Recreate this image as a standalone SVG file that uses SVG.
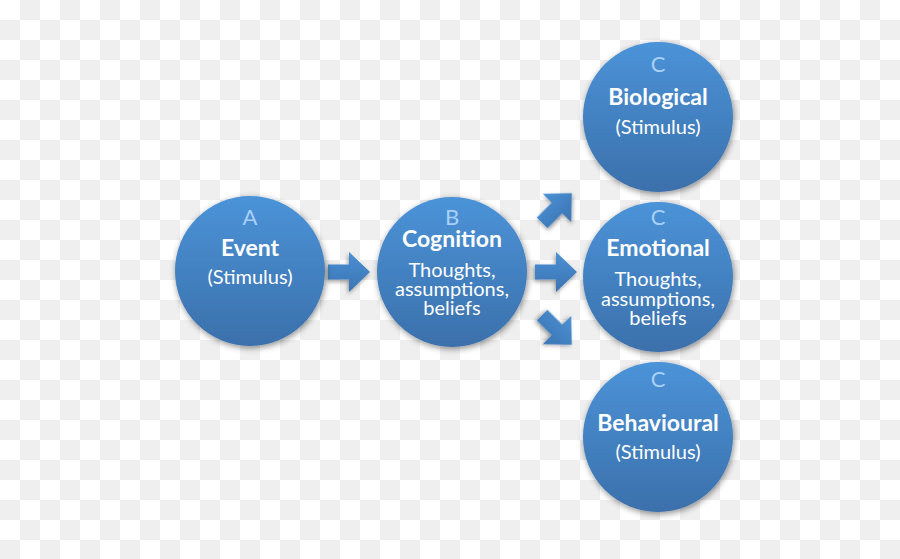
<svg xmlns="http://www.w3.org/2000/svg" width="900" height="559" viewBox="0 0 900 559">
  <defs>
    <pattern id="checker" x="0" y="0" width="40" height="40" patternUnits="userSpaceOnUse">
      <rect x="0" y="0" width="40" height="40" fill="#ffffff"/>
      <rect x="20" y="0" width="20" height="20" fill="#efefef"/>
      <rect x="0" y="20" width="20" height="20" fill="#efefef"/>
    </pattern>
    <linearGradient id="circGrad" x1="0" y1="0" x2="0" y2="1">
      <stop offset="0" stop-color="#4b93d8"/>
      <stop offset="1" stop-color="#3b70ab"/>
    </linearGradient>
    <linearGradient id="arrGrad" x1="0" y1="0" x2="0" y2="1">
      <stop offset="0" stop-color="#4a90d4"/>
      <stop offset="1" stop-color="#3c74b2"/>
    </linearGradient>
    <filter id="shadow" x="-20%" y="-20%" width="140%" height="140%">
      <feDropShadow dx="1" dy="2" stdDeviation="3" flood-color="#000000" flood-opacity="0.45"/>
    </filter>
    <filter id="ashadow" x="-30%" y="-30%" width="160%" height="160%">
      <feDropShadow dx="-1" dy="2" stdDeviation="2" flood-color="#000000" flood-opacity="0.4"/>
    </filter>
    <path id="arrow" d="M-21,-7.5 H0 V-20 L21,0 L0,20 V7.5 H-21 Z"/>
  </defs>
  <style>
    .node circle { fill: url(#circGrad); filter: url(#shadow); }
    .letter { font-family: "Lato", "Liberation Sans", sans-serif; font-size: 22px; fill: #a8d0f7; text-anchor: middle; }
    .title { font-family: "Lato", "Liberation Sans", sans-serif; font-size: 23px; font-weight: bold; fill: #ffffff; text-anchor: middle; }
    .sub { font-family: "Lato", "Liberation Sans", sans-serif; font-size: 20px; fill: #ffffff; text-anchor: middle; }
    .arr { fill: url(#arrGrad); filter: url(#ashadow); }
  </style>

  <rect x="0" y="0" width="900" height="559" fill="url(#checker)"/>

  <g id="connectors">
    <use href="#arrow" class="arr" transform="translate(349,272)"/>
    <use href="#arrow" class="arr" transform="translate(556,272)"/>
    <use href="#arrow" class="arr" transform="translate(557,208) rotate(-45)"/>
    <use href="#arrow" class="arr" transform="translate(557,330) rotate(45)"/>
  </g>

  <g id="node-event" class="node">
    <circle cx="250" cy="271" r="75"/>
    <text class="letter" x="250" y="225">A</text>
    <text class="title" x="250" y="256">Event</text>
    <text class="sub" x="250" y="284">(Stimulus)</text>
  </g>

  <g id="node-cognition" class="node">
    <circle cx="452" cy="272" r="75"/>
    <text class="letter" x="452" y="225">B</text>
    <text class="title" x="452" y="247">Cognition</text>
    <text class="sub" x="452" y="277">Thoughts,</text>
    <text class="sub" x="452" y="296">assumptions,</text>
    <text class="sub" x="452" y="315">beliefs</text>
  </g>

  <g id="node-biological" class="node">
    <circle cx="658" cy="117" r="75"/>
    <text class="letter" x="658" y="72">C</text>
    <text class="title" x="658" y="105">Biological</text>
    <text class="sub" x="658" y="134">(Stimulus)</text>
  </g>

  <g id="node-emotional" class="node">
    <circle cx="658" cy="277" r="75"/>
    <text class="letter" x="658" y="225">C</text>
    <text class="title" x="658" y="256">Emotional</text>
    <text class="sub" x="658" y="286">Thoughts,</text>
    <text class="sub" x="658" y="306">assumptions,</text>
    <text class="sub" x="658" y="325">beliefs</text>
  </g>

  <g id="node-behavioural" class="node">
    <circle cx="658" cy="437" r="75"/>
    <text class="letter" x="658" y="387">C</text>
    <text class="title" x="658" y="431">Behavioural</text>
    <text class="sub" x="658" y="459">(Stimulus)</text>
  </g>
</svg>
